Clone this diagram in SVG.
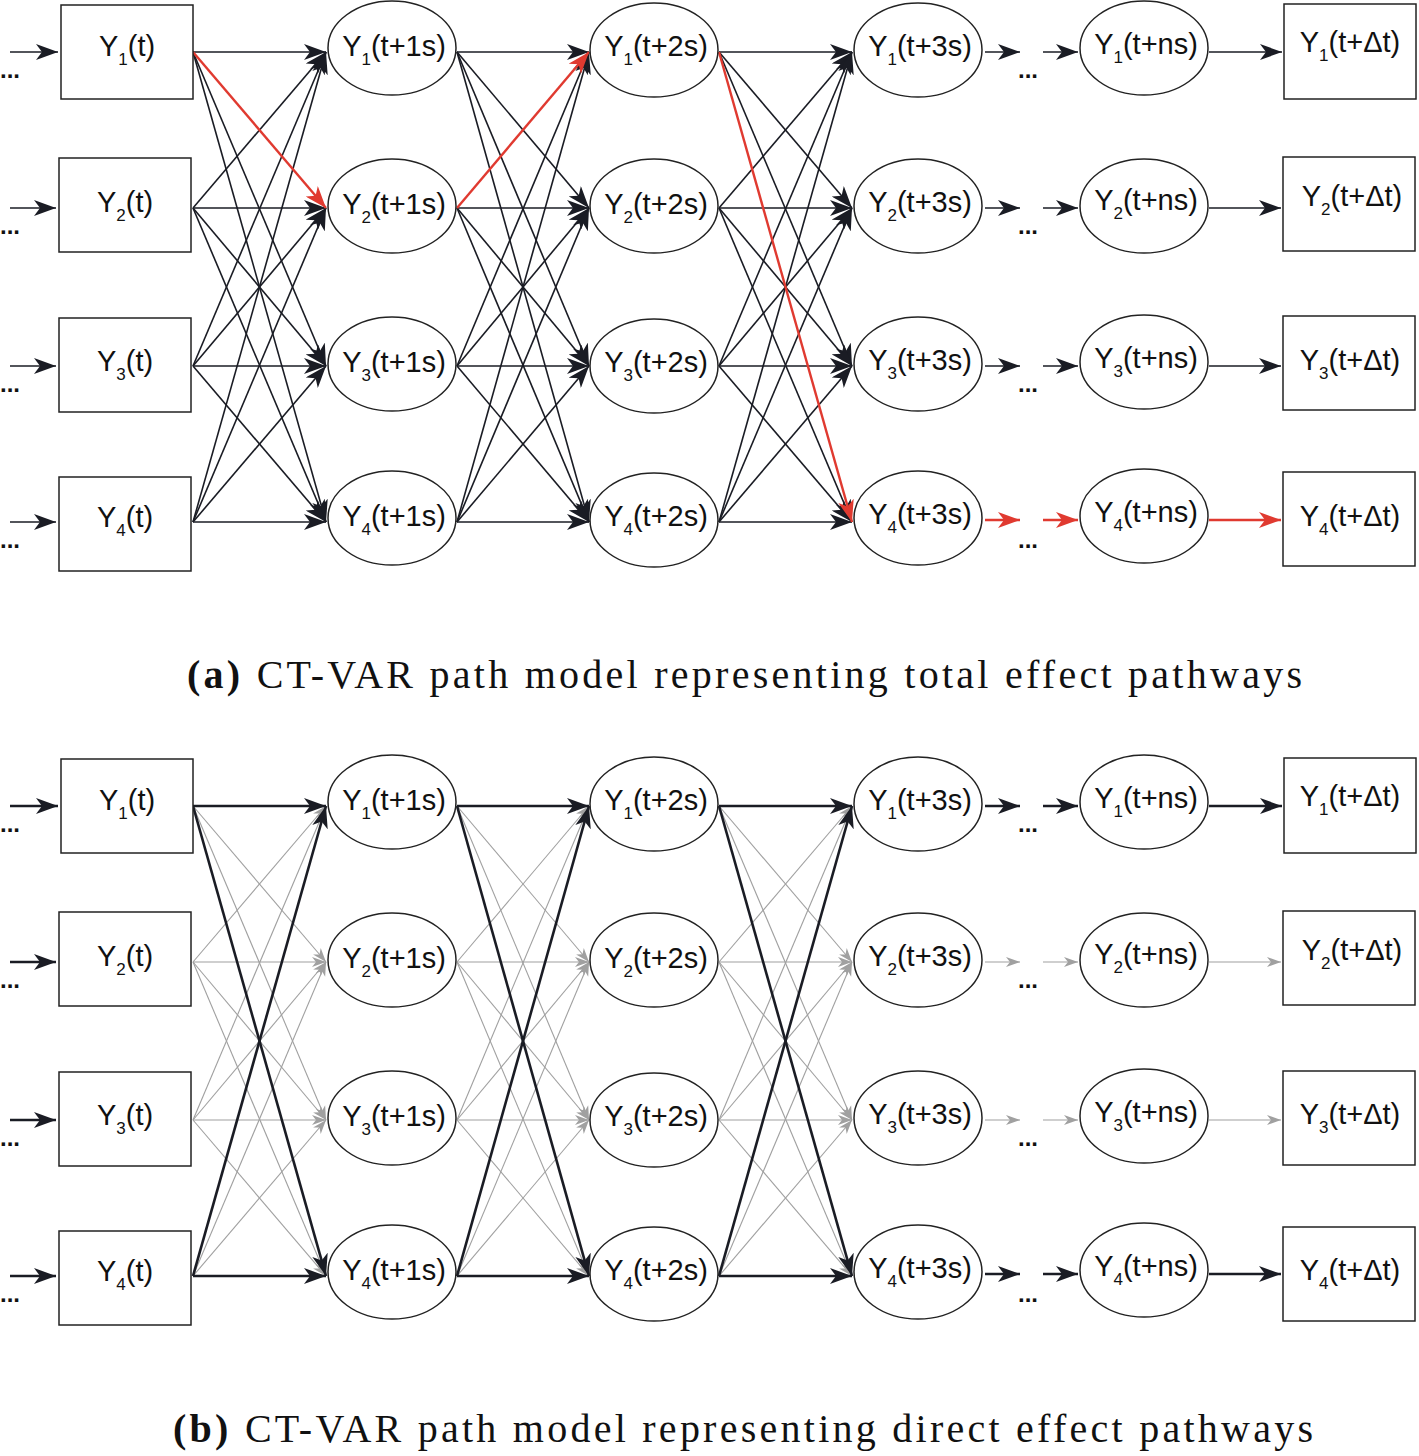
<svg xmlns="http://www.w3.org/2000/svg" width="1419" height="1456" viewBox="0 0 1419 1456">
<style>
.n{fill:#fff;stroke:#222;stroke-width:1.5}
.l{font-family:"Liberation Sans",Arial,sans-serif;font-size:29px;text-anchor:middle;fill:#111}
.s{font-size:17px}
.d{font-family:"Liberation Sans",Arial,sans-serif;font-size:24px;fill:#111;font-weight:bold}
.k{stroke:#1a1c24;stroke-width:1.6;fill:none;marker-end:url(#ak)}
.kb{stroke:#1a1c24;stroke-width:2.6;fill:none;marker-end:url(#ak)}
.r{stroke:#e03a30;stroke-width:2.4;fill:none;marker-end:url(#ar)}
.g{stroke:#a0a0a0;stroke-width:1.1;fill:none;marker-end:url(#ag)}
.c{font-family:"Liberation Serif","Times New Roman",serif;font-size:40px;fill:#111}
</style>
<defs>
<marker id="ak" markerUnits="userSpaceOnUse" markerWidth="24" markerHeight="16" refX="22" refY="8" orient="auto"><path d="M0,0 L22,8 L0,16 L6,8 Z" fill="#1a1c24"/></marker>
<marker id="ar" markerUnits="userSpaceOnUse" markerWidth="24" markerHeight="16" refX="22" refY="8" orient="auto"><path d="M0,0 L22,8 L0,16 L6,8 Z" fill="#e03a30"/></marker>
<marker id="ag" markerUnits="userSpaceOnUse" markerWidth="16" markerHeight="12" refX="14" refY="6" orient="auto"><path d="M0,1 L14,6 L0,11 L4,6 Z" fill="#a0a0a0"/></marker>
</defs>
<g id="edges-a">
<line class="k" x1="10" y1="52" x2="58" y2="52"/><line class="k" x1="10" y1="208" x2="56" y2="208"/><line class="k" x1="10" y1="366" x2="56" y2="366"/><line class="k" x1="10" y1="522" x2="56" y2="522"/>
<line class="k" x1="193" y1="52" x2="326" y2="52"/><line class="k" x1="193" y1="52" x2="326" y2="366"/><line class="k" x1="193" y1="52" x2="326" y2="522"/>
<line class="k" x1="193" y1="208" x2="326" y2="52"/><line class="k" x1="193" y1="208" x2="326" y2="208"/><line class="k" x1="193" y1="208" x2="326" y2="366"/><line class="k" x1="193" y1="208" x2="326" y2="522"/>
<line class="k" x1="193" y1="366" x2="326" y2="52"/><line class="k" x1="193" y1="366" x2="326" y2="208"/><line class="k" x1="193" y1="366" x2="326" y2="366"/><line class="k" x1="193" y1="366" x2="326" y2="522"/>
<line class="k" x1="193" y1="522" x2="326" y2="52"/><line class="k" x1="193" y1="522" x2="326" y2="208"/><line class="k" x1="193" y1="522" x2="326" y2="366"/><line class="k" x1="193" y1="522" x2="326" y2="522"/>
<line class="k" x1="457" y1="52" x2="589" y2="52"/><line class="k" x1="457" y1="52" x2="589" y2="208"/><line class="k" x1="457" y1="52" x2="589" y2="366"/><line class="k" x1="457" y1="52" x2="589" y2="522"/>
<line class="k" x1="457" y1="208" x2="589" y2="208"/><line class="k" x1="457" y1="208" x2="589" y2="366"/><line class="k" x1="457" y1="208" x2="589" y2="522"/>
<line class="k" x1="457" y1="366" x2="589" y2="52"/><line class="k" x1="457" y1="366" x2="589" y2="208"/><line class="k" x1="457" y1="366" x2="589" y2="366"/><line class="k" x1="457" y1="366" x2="589" y2="522"/>
<line class="k" x1="457" y1="522" x2="589" y2="52"/><line class="k" x1="457" y1="522" x2="589" y2="208"/><line class="k" x1="457" y1="522" x2="589" y2="366"/><line class="k" x1="457" y1="522" x2="589" y2="522"/>
<line class="k" x1="719" y1="52" x2="852" y2="52"/><line class="k" x1="719" y1="52" x2="852" y2="208"/><line class="k" x1="719" y1="52" x2="852" y2="366"/>
<line class="k" x1="719" y1="208" x2="852" y2="52"/><line class="k" x1="719" y1="208" x2="852" y2="208"/><line class="k" x1="719" y1="208" x2="852" y2="366"/><line class="k" x1="719" y1="208" x2="852" y2="522"/>
<line class="k" x1="719" y1="366" x2="852" y2="52"/><line class="k" x1="719" y1="366" x2="852" y2="208"/><line class="k" x1="719" y1="366" x2="852" y2="366"/><line class="k" x1="719" y1="366" x2="852" y2="522"/>
<line class="k" x1="719" y1="522" x2="852" y2="52"/><line class="k" x1="719" y1="522" x2="852" y2="208"/><line class="k" x1="719" y1="522" x2="852" y2="366"/><line class="k" x1="719" y1="522" x2="852" y2="522"/>
<line class="k" x1="985" y1="52" x2="1020" y2="52"/><line class="k" x1="1043" y1="52" x2="1078" y2="52"/>
<line class="k" x1="985" y1="208" x2="1020" y2="208"/><line class="k" x1="1043" y1="208" x2="1078" y2="208"/>
<line class="k" x1="985" y1="366" x2="1020" y2="366"/><line class="k" x1="1043" y1="366" x2="1078" y2="366"/>
<line class="k" x1="1209" y1="52" x2="1282" y2="52"/><line class="k" x1="1209" y1="208" x2="1281" y2="208"/><line class="k" x1="1209" y1="366" x2="1281" y2="366"/>
<line class="r" x1="193" y1="52" x2="326" y2="208"/><line class="r" x1="457" y1="208" x2="589" y2="52"/><line class="r" x1="719" y1="52" x2="852" y2="522"/>
<line class="r" x1="985" y1="520" x2="1020" y2="520"/><line class="r" x1="1043" y1="520" x2="1078" y2="520"/><line class="r" x1="1209" y1="520" x2="1281" y2="520"/>
</g>
<g id="edges-b">
<line class="kb" x1="10" y1="806" x2="58" y2="806"/><line class="kb" x1="10" y1="962" x2="56" y2="962"/><line class="kb" x1="10" y1="1120" x2="56" y2="1120"/><line class="kb" x1="10" y1="1276" x2="56" y2="1276"/>
<line class="g" x1="193" y1="806" x2="326" y2="962"/><line class="g" x1="193" y1="806" x2="326" y2="1120"/>
<line class="g" x1="193" y1="962" x2="326" y2="806"/><line class="g" x1="193" y1="962" x2="326" y2="962"/><line class="g" x1="193" y1="962" x2="326" y2="1120"/><line class="g" x1="193" y1="962" x2="326" y2="1276"/>
<line class="g" x1="193" y1="1120" x2="326" y2="806"/><line class="g" x1="193" y1="1120" x2="326" y2="962"/><line class="g" x1="193" y1="1120" x2="326" y2="1120"/><line class="g" x1="193" y1="1120" x2="326" y2="1276"/>
<line class="g" x1="193" y1="1276" x2="326" y2="962"/><line class="g" x1="193" y1="1276" x2="326" y2="1120"/>
<line class="g" x1="457" y1="806" x2="589" y2="962"/><line class="g" x1="457" y1="806" x2="589" y2="1120"/>
<line class="g" x1="457" y1="962" x2="589" y2="806"/><line class="g" x1="457" y1="962" x2="589" y2="962"/><line class="g" x1="457" y1="962" x2="589" y2="1120"/><line class="g" x1="457" y1="962" x2="589" y2="1276"/>
<line class="g" x1="457" y1="1120" x2="589" y2="806"/><line class="g" x1="457" y1="1120" x2="589" y2="962"/><line class="g" x1="457" y1="1120" x2="589" y2="1120"/><line class="g" x1="457" y1="1120" x2="589" y2="1276"/>
<line class="g" x1="457" y1="1276" x2="589" y2="962"/><line class="g" x1="457" y1="1276" x2="589" y2="1120"/>
<line class="g" x1="719" y1="806" x2="852" y2="962"/><line class="g" x1="719" y1="806" x2="852" y2="1120"/>
<line class="g" x1="719" y1="962" x2="852" y2="806"/><line class="g" x1="719" y1="962" x2="852" y2="962"/><line class="g" x1="719" y1="962" x2="852" y2="1120"/><line class="g" x1="719" y1="962" x2="852" y2="1276"/>
<line class="g" x1="719" y1="1120" x2="852" y2="806"/><line class="g" x1="719" y1="1120" x2="852" y2="962"/><line class="g" x1="719" y1="1120" x2="852" y2="1120"/><line class="g" x1="719" y1="1120" x2="852" y2="1276"/>
<line class="g" x1="719" y1="1276" x2="852" y2="962"/><line class="g" x1="719" y1="1276" x2="852" y2="1120"/>
<line class="kb" x1="193" y1="806" x2="326" y2="806"/><line class="kb" x1="193" y1="806" x2="326" y2="1276"/><line class="kb" x1="193" y1="1276" x2="326" y2="806"/><line class="kb" x1="193" y1="1276" x2="326" y2="1276"/>
<line class="kb" x1="457" y1="806" x2="589" y2="806"/><line class="kb" x1="457" y1="806" x2="589" y2="1276"/><line class="kb" x1="457" y1="1276" x2="589" y2="806"/><line class="kb" x1="457" y1="1276" x2="589" y2="1276"/>
<line class="kb" x1="719" y1="806" x2="852" y2="806"/><line class="kb" x1="719" y1="806" x2="852" y2="1276"/><line class="kb" x1="719" y1="1276" x2="852" y2="806"/><line class="kb" x1="719" y1="1276" x2="852" y2="1276"/>
<line class="kb" x1="985" y1="806" x2="1020" y2="806"/><line class="kb" x1="1043" y1="806" x2="1078" y2="806"/>
<line class="g" x1="985" y1="962" x2="1020" y2="962"/><line class="g" x1="1043" y1="962" x2="1078" y2="962"/>
<line class="g" x1="985" y1="1120" x2="1020" y2="1120"/><line class="g" x1="1043" y1="1120" x2="1078" y2="1120"/>
<line class="kb" x1="985" y1="1274" x2="1020" y2="1274"/><line class="kb" x1="1043" y1="1274" x2="1078" y2="1274"/>
<line class="kb" x1="1209" y1="806" x2="1282" y2="806"/><line class="g" x1="1209" y1="962" x2="1281" y2="962"/><line class="g" x1="1209" y1="1120" x2="1281" y2="1120"/><line class="kb" x1="1209" y1="1274" x2="1281" y2="1274"/>
</g>
<g id="dots">
<text class="d" x="0" y="78">...</text><text class="d" x="0" y="234">...</text><text class="d" x="0" y="392">...</text><text class="d" x="0" y="548">...</text>
<text class="d" x="1018" y="78">...</text><text class="d" x="1018" y="234">...</text><text class="d" x="1018" y="392">...</text><text class="d" x="1018" y="548">...</text>
<text class="d" x="0" y="832">...</text><text class="d" x="0" y="988">...</text><text class="d" x="0" y="1146">...</text><text class="d" x="0" y="1302">...</text>
<text class="d" x="1018" y="832">...</text><text class="d" x="1018" y="988">...</text><text class="d" x="1018" y="1146">...</text><text class="d" x="1018" y="1302">...</text>
</g>
<g id="a-Y1t"><rect class="n" x="61" y="5" width="132" height="94"/><text class="l" x="127" y="56">Y<tspan class="s" dy="9">1</tspan><tspan dy="-9">(t)</tspan></text></g>
<g id="a-Y2t"><rect class="n" x="59" y="158" width="132" height="94"/><text class="l" x="125" y="212">Y<tspan class="s" dy="9">2</tspan><tspan dy="-9">(t)</tspan></text></g>
<g id="a-Y3t"><rect class="n" x="59" y="318" width="132" height="94"/><text class="l" x="125" y="371">Y<tspan class="s" dy="9">3</tspan><tspan dy="-9">(t)</tspan></text></g>
<g id="a-Y4t"><rect class="n" x="59" y="477" width="132" height="94"/><text class="l" x="125" y="527">Y<tspan class="s" dy="9">4</tspan><tspan dy="-9">(t)</tspan></text></g>
<g id="a-Y1s1"><ellipse class="n" cx="392" cy="48" rx="64" ry="47"/><text class="l" x="394" y="56">Y<tspan class="s" dy="9">1</tspan><tspan dy="-9">(t+1s)</tspan></text></g>
<g id="a-Y2s1"><ellipse class="n" cx="392" cy="206" rx="64" ry="47"/><text class="l" x="394" y="214">Y<tspan class="s" dy="9">2</tspan><tspan dy="-9">(t+1s)</tspan></text></g>
<g id="a-Y3s1"><ellipse class="n" cx="392" cy="364" rx="64" ry="47"/><text class="l" x="394" y="372">Y<tspan class="s" dy="9">3</tspan><tspan dy="-9">(t+1s)</tspan></text></g>
<g id="a-Y4s1"><ellipse class="n" cx="392" cy="518" rx="64" ry="47"/><text class="l" x="394" y="526">Y<tspan class="s" dy="9">4</tspan><tspan dy="-9">(t+1s)</tspan></text></g>
<g id="a-Y1s2"><ellipse class="n" cx="654" cy="50" rx="64" ry="47"/><text class="l" x="656" y="56">Y<tspan class="s" dy="9">1</tspan><tspan dy="-9">(t+2s)</tspan></text></g>
<g id="a-Y2s2"><ellipse class="n" cx="654" cy="206" rx="64" ry="47"/><text class="l" x="656" y="214">Y<tspan class="s" dy="9">2</tspan><tspan dy="-9">(t+2s)</tspan></text></g>
<g id="a-Y3s2"><ellipse class="n" cx="654" cy="366" rx="64" ry="47"/><text class="l" x="656" y="372">Y<tspan class="s" dy="9">3</tspan><tspan dy="-9">(t+2s)</tspan></text></g>
<g id="a-Y4s2"><ellipse class="n" cx="654" cy="520" rx="64" ry="47"/><text class="l" x="656" y="526">Y<tspan class="s" dy="9">4</tspan><tspan dy="-9">(t+2s)</tspan></text></g>
<g id="a-Y1s3"><ellipse class="n" cx="918" cy="50" rx="64" ry="47"/><text class="l" x="920" y="56">Y<tspan class="s" dy="9">1</tspan><tspan dy="-9">(t+3s)</tspan></text></g>
<g id="a-Y2s3"><ellipse class="n" cx="918" cy="206" rx="64" ry="47"/><text class="l" x="920" y="212">Y<tspan class="s" dy="9">2</tspan><tspan dy="-9">(t+3s)</tspan></text></g>
<g id="a-Y3s3"><ellipse class="n" cx="918" cy="364" rx="64" ry="47"/><text class="l" x="920" y="370">Y<tspan class="s" dy="9">3</tspan><tspan dy="-9">(t+3s)</tspan></text></g>
<g id="a-Y4s3"><ellipse class="n" cx="918" cy="518" rx="64" ry="47"/><text class="l" x="920" y="524">Y<tspan class="s" dy="9">4</tspan><tspan dy="-9">(t+3s)</tspan></text></g>
<g id="a-Y1ns"><ellipse class="n" cx="1144" cy="48" rx="64" ry="47"/><text class="l" x="1146" y="54">Y<tspan class="s" dy="9">1</tspan><tspan dy="-9">(t+ns)</tspan></text></g>
<g id="a-Y2ns"><ellipse class="n" cx="1144" cy="206" rx="64" ry="47"/><text class="l" x="1146" y="210">Y<tspan class="s" dy="9">2</tspan><tspan dy="-9">(t+ns)</tspan></text></g>
<g id="a-Y3ns"><ellipse class="n" cx="1144" cy="362" rx="64" ry="47"/><text class="l" x="1146" y="368">Y<tspan class="s" dy="9">3</tspan><tspan dy="-9">(t+ns)</tspan></text></g>
<g id="a-Y4ns"><ellipse class="n" cx="1144" cy="516" rx="64" ry="47"/><text class="l" x="1146" y="522">Y<tspan class="s" dy="9">4</tspan><tspan dy="-9">(t+ns)</tspan></text></g>
<g id="a-Y1d"><rect class="n" x="1284" y="4" width="132" height="95"/><text class="l" x="1350" y="52">Y<tspan class="s" dy="9">1</tspan><tspan dy="-9">(t+Δt)</tspan></text></g>
<g id="a-Y2d"><rect class="n" x="1283" y="157" width="132" height="94"/><text class="l" x="1352" y="206">Y<tspan class="s" dy="9">2</tspan><tspan dy="-9">(t+Δt)</tspan></text></g>
<g id="a-Y3d"><rect class="n" x="1283" y="316" width="132" height="94"/><text class="l" x="1350" y="370">Y<tspan class="s" dy="9">3</tspan><tspan dy="-9">(t+Δt)</tspan></text></g>
<g id="a-Y4d"><rect class="n" x="1283" y="472" width="132" height="94"/><text class="l" x="1350" y="526">Y<tspan class="s" dy="9">4</tspan><tspan dy="-9">(t+Δt)</tspan></text></g>
<text class="c" x="187" y="688" textLength="1115" lengthAdjust="spacing"><tspan font-weight="bold">(a)</tspan> CT-VAR path model representing total effect pathways</text>
<g id="b-Y1t"><rect class="n" x="61" y="759" width="132" height="94"/><text class="l" x="127" y="810">Y<tspan class="s" dy="9">1</tspan><tspan dy="-9">(t)</tspan></text></g>
<g id="b-Y2t"><rect class="n" x="59" y="912" width="132" height="94"/><text class="l" x="125" y="966">Y<tspan class="s" dy="9">2</tspan><tspan dy="-9">(t)</tspan></text></g>
<g id="b-Y3t"><rect class="n" x="59" y="1072" width="132" height="94"/><text class="l" x="125" y="1125">Y<tspan class="s" dy="9">3</tspan><tspan dy="-9">(t)</tspan></text></g>
<g id="b-Y4t"><rect class="n" x="59" y="1231" width="132" height="94"/><text class="l" x="125" y="1281">Y<tspan class="s" dy="9">4</tspan><tspan dy="-9">(t)</tspan></text></g>
<g id="b-Y1s1"><ellipse class="n" cx="392" cy="802" rx="64" ry="47"/><text class="l" x="394" y="810">Y<tspan class="s" dy="9">1</tspan><tspan dy="-9">(t+1s)</tspan></text></g>
<g id="b-Y2s1"><ellipse class="n" cx="392" cy="960" rx="64" ry="47"/><text class="l" x="394" y="968">Y<tspan class="s" dy="9">2</tspan><tspan dy="-9">(t+1s)</tspan></text></g>
<g id="b-Y3s1"><ellipse class="n" cx="392" cy="1118" rx="64" ry="47"/><text class="l" x="394" y="1126">Y<tspan class="s" dy="9">3</tspan><tspan dy="-9">(t+1s)</tspan></text></g>
<g id="b-Y4s1"><ellipse class="n" cx="392" cy="1272" rx="64" ry="47"/><text class="l" x="394" y="1280">Y<tspan class="s" dy="9">4</tspan><tspan dy="-9">(t+1s)</tspan></text></g>
<g id="b-Y1s2"><ellipse class="n" cx="654" cy="804" rx="64" ry="47"/><text class="l" x="656" y="810">Y<tspan class="s" dy="9">1</tspan><tspan dy="-9">(t+2s)</tspan></text></g>
<g id="b-Y2s2"><ellipse class="n" cx="654" cy="960" rx="64" ry="47"/><text class="l" x="656" y="968">Y<tspan class="s" dy="9">2</tspan><tspan dy="-9">(t+2s)</tspan></text></g>
<g id="b-Y3s2"><ellipse class="n" cx="654" cy="1120" rx="64" ry="47"/><text class="l" x="656" y="1126">Y<tspan class="s" dy="9">3</tspan><tspan dy="-9">(t+2s)</tspan></text></g>
<g id="b-Y4s2"><ellipse class="n" cx="654" cy="1274" rx="64" ry="47"/><text class="l" x="656" y="1280">Y<tspan class="s" dy="9">4</tspan><tspan dy="-9">(t+2s)</tspan></text></g>
<g id="b-Y1s3"><ellipse class="n" cx="918" cy="804" rx="64" ry="47"/><text class="l" x="920" y="810">Y<tspan class="s" dy="9">1</tspan><tspan dy="-9">(t+3s)</tspan></text></g>
<g id="b-Y2s3"><ellipse class="n" cx="918" cy="960" rx="64" ry="47"/><text class="l" x="920" y="966">Y<tspan class="s" dy="9">2</tspan><tspan dy="-9">(t+3s)</tspan></text></g>
<g id="b-Y3s3"><ellipse class="n" cx="918" cy="1118" rx="64" ry="47"/><text class="l" x="920" y="1124">Y<tspan class="s" dy="9">3</tspan><tspan dy="-9">(t+3s)</tspan></text></g>
<g id="b-Y4s3"><ellipse class="n" cx="918" cy="1272" rx="64" ry="47"/><text class="l" x="920" y="1278">Y<tspan class="s" dy="9">4</tspan><tspan dy="-9">(t+3s)</tspan></text></g>
<g id="b-Y1ns"><ellipse class="n" cx="1144" cy="802" rx="64" ry="47"/><text class="l" x="1146" y="808">Y<tspan class="s" dy="9">1</tspan><tspan dy="-9">(t+ns)</tspan></text></g>
<g id="b-Y2ns"><ellipse class="n" cx="1144" cy="960" rx="64" ry="47"/><text class="l" x="1146" y="964">Y<tspan class="s" dy="9">2</tspan><tspan dy="-9">(t+ns)</tspan></text></g>
<g id="b-Y3ns"><ellipse class="n" cx="1144" cy="1116" rx="64" ry="47"/><text class="l" x="1146" y="1122">Y<tspan class="s" dy="9">3</tspan><tspan dy="-9">(t+ns)</tspan></text></g>
<g id="b-Y4ns"><ellipse class="n" cx="1144" cy="1270" rx="64" ry="47"/><text class="l" x="1146" y="1276">Y<tspan class="s" dy="9">4</tspan><tspan dy="-9">(t+ns)</tspan></text></g>
<g id="b-Y1d"><rect class="n" x="1284" y="758" width="132" height="95"/><text class="l" x="1350" y="806">Y<tspan class="s" dy="9">1</tspan><tspan dy="-9">(t+Δt)</tspan></text></g>
<g id="b-Y2d"><rect class="n" x="1283" y="911" width="132" height="94"/><text class="l" x="1352" y="960">Y<tspan class="s" dy="9">2</tspan><tspan dy="-9">(t+Δt)</tspan></text></g>
<g id="b-Y3d"><rect class="n" x="1283" y="1071" width="132" height="94"/><text class="l" x="1350" y="1124">Y<tspan class="s" dy="9">3</tspan><tspan dy="-9">(t+Δt)</tspan></text></g>
<g id="b-Y4d"><rect class="n" x="1283" y="1227" width="132" height="94"/><text class="l" x="1350" y="1280">Y<tspan class="s" dy="9">4</tspan><tspan dy="-9">(t+Δt)</tspan></text></g>
<text class="c" x="173" y="1442" textLength="1140" lengthAdjust="spacing"><tspan font-weight="bold">(b)</tspan> CT-VAR path model representing direct effect pathways</text>
</svg>
